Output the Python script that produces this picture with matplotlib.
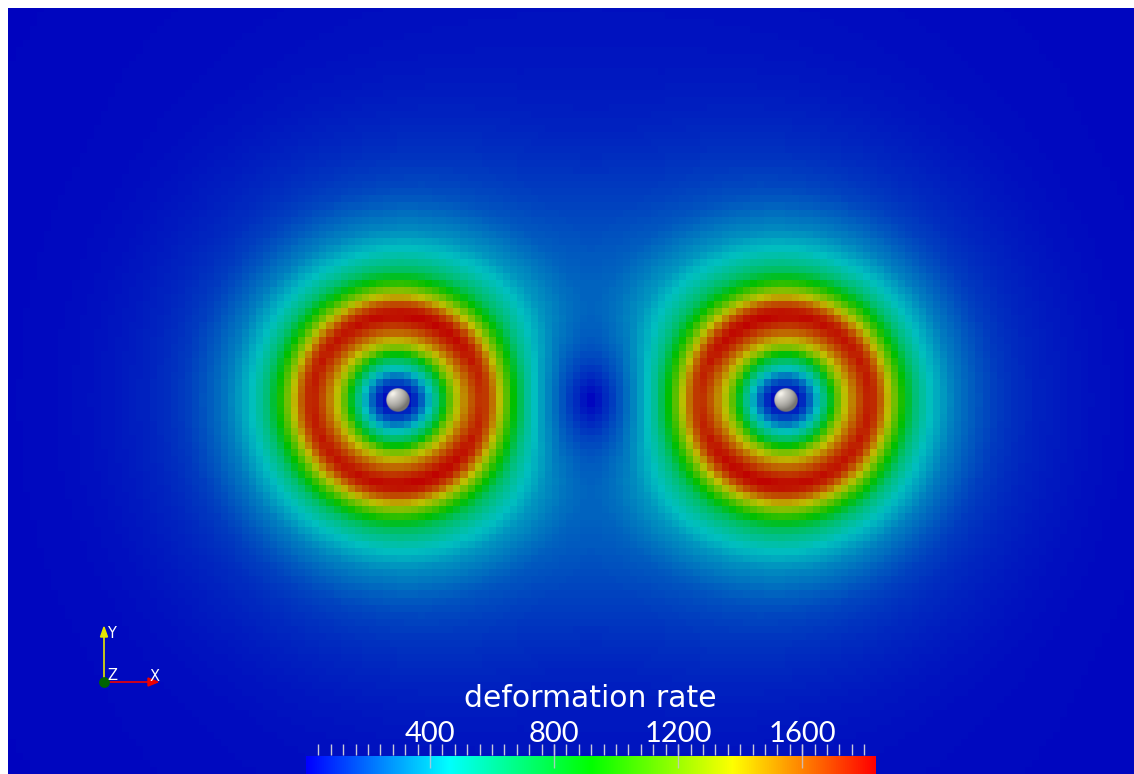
import numpy as np
import matplotlib
matplotlib.use("Agg")
import matplotlib.pyplot as plt
from matplotlib.colors import ListedColormap, Normalize, hsv_to_rgb

# radial profile of deformation rate around one vortex (px from centre -> value)
prof_r = [0, 8, 15, 23, 30, 38, 45, 52, 60, 67, 76, 84, 91, 98, 105, 113, 121,
          130, 138, 148, 160, 170, 180, 195, 212, 232, 250, 277, 310, 350, 400,
          500, 600, 800, 1000]
prof_v = [0, 30, 80, 220, 400, 600, 820, 1150, 1380, 1550, 1710, 1800, 1730,
          1570, 1340, 1100, 870, 660, 560, 460, 380, 315, 275, 215, 160, 125,
          102, 78, 55, 38, 30, 22, 17, 11, 8]

# vortex centres (image px) and rotation sense
vort_x = [397, 785]
vort_y = [400, 400]
vort_sign = [1, -1]

vmin, vmax = 0, 1835
major_ticks = [400, 800, 1200, 1600]
minor_ticks = list(range(40, 1801, 40))
title = "deformation rate"

W, H = 1134, 774
cell = 388 / 55.0

# blue -> red rainbow (hsv), field copy darkened like the shaded render
hue = np.linspace(2 / 3, 0, 256)
bright = hsv_to_rgb(np.stack([hue, np.ones(256), np.ones(256)], axis=1))
cmap_bar = ListedColormap(bright)
cmap_field = ListedColormap(bright * 0.75)
norm = Normalize(vmin, vmax)

# grid of cells
xe = vort_x[0] + cell * np.arange(-60, 110)
ye = vort_y[0] + cell * np.arange(-60, 60)
xc = (xe[:-1] + xe[1:]) / 2
yc = (ye[:-1] + ye[1:]) / 2
X, Y = np.meshgrid(xc, yc)
S = np.zeros(X.shape, dtype=complex)
for cx, cy, sg in zip(vort_x, vort_y, vort_sign):
    z = (X - cx) + 1j * (Y - cy)
    r = np.abs(z)
    e = (z / np.where(r == 0, 1, r)) ** 2
    S += sg * np.interp(r, prof_r, prof_v) * e
field = np.abs(S)

fig = plt.figure(figsize=(W / 100, H / 100), dpi=100)
fig.patch.set_facecolor("white")

ax = fig.add_axes([8 / W, 0, (W - 8) / W, (H - 8) / H])
ax.pcolormesh(xe, ye, field, cmap=cmap_field, norm=norm, shading="flat")
ax.set_xlim(8, W)
ax.set_ylim(H, 8)
ax.set_axis_off()

# overlay in pixel coordinates
ov = fig.add_axes([0, 0, 1, 1])
ov.set_xlim(0, W)
ov.set_ylim(H, 0)
ov.set_axis_off()
ov.patch.set_alpha(0)

# spheres
n = 80
u, v = np.meshgrid(np.linspace(-1, 1, n), np.linspace(1, -1, n))
rr = u ** 2 + v ** 2
nz = np.sqrt(np.clip(1 - rr, 0, 1))
L = np.array([-0.45, 0.55, 0.75])
L = L / np.linalg.norm(L)
dot = np.clip(u * L[0] + v * L[1] + nz * L[2], 0, 1)
inten = 0.5 + 0.42 * dot + 0.12 * dot ** 20
img = np.zeros((n, n, 4))
img[..., 0] = 0.93 * inten
img[..., 1] = 0.92 * inten
img[..., 2] = 0.89 * inten
img[..., 3] = np.clip((1 - np.sqrt(rr)) * n / 2, 0, 1)
img[..., :3] = np.clip(img[..., :3], 0, 1)
rad = 12
for cx, cy in zip(vort_x, vort_y):
    ov.imshow(img, extent=(cx + 1 - rad, cx + 1 + rad, cy + rad, cy - rad),
              origin="upper", interpolation="bilinear", aspect="auto", zorder=3)
ov.set_xlim(0, W)
ov.set_ylim(H, 0)

# orientation triad
ox, oy = 104, 682
ov.plot([ox, ox], [oy, 637], color="#e6e600", lw=1.2, zorder=4)
ov.fill([ox - 3.5, ox + 3.5, ox], [637, 637, 627], color="#e6e600", zorder=4)
ov.plot([ox, 148], [oy, oy], color="#ee0000", lw=1.2, zorder=4)
ov.fill([148, 148, 158], [oy - 4, oy + 4, oy], color="#ee0000", zorder=4)
ov.scatter([ox], [oy], s=60, color="#006400", zorder=5, linewidths=0)
tk = dict(color="white", fontsize=10.5, family="DejaVu Sans", zorder=6)
ov.text(107, 638, "Y", va="baseline", ha="left", **tk)
ov.text(107, 680, "Z", va="baseline", ha="left", **tk)
ov.text(150, 681, "X", va="baseline", ha="left", **tk)

# colour bar with labels, value x / pixel y
x0, x1 = 306, 875
cb = fig.add_axes([x0 / W, 0, (x1 - x0) / W, 100 / H])
cb.set_xlim(vmin, vmax)
cb.set_ylim(H, H - 100)
cb.set_axis_off()
cb.patch.set_alpha(0)
grad = np.linspace(vmin, vmax, 512)[None, :]
cb.imshow(grad, cmap=cmap_bar, norm=norm, extent=(vmin, vmax, H, 756),
          aspect="auto", interpolation="bilinear")
cb.set_xlim(vmin, vmax)
cb.set_ylim(H, H - 100)
cb.vlines(minor_ticks, 744, 755, color="#c8c8d8", lw=1)
cb.vlines(major_ticks, 744, 768, color="#c8c8d8", lw=1, alpha=0.8)
for t in major_ticks:
    cb.text(t, 742, str(t), color="white", fontsize=21, ha="center",
            va="baseline", family="Lato")
cb.text((vmin + vmax) / 2, 707, title, color="white", fontsize=21.5,
        ha="center", va="baseline", family="DejaVu Sans")

fig.savefig("out.png", dpi=100, facecolor="white")
